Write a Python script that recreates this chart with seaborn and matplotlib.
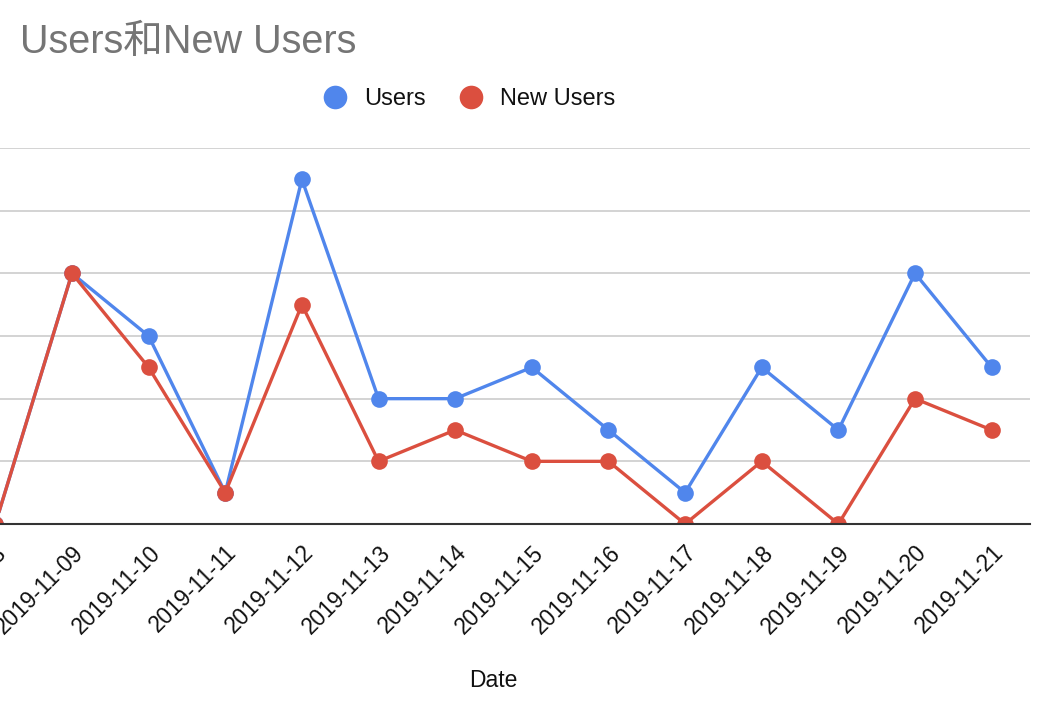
import pandas as pd
import matplotlib.pyplot as plt
import matplotlib.transforms as mtransforms
import seaborn as sns
from matplotlib.lines import Line2D

# values
dates = ["2019-11-08", "2019-11-09", "2019-11-10", "2019-11-11", "2019-11-12",
         "2019-11-13", "2019-11-14", "2019-11-15", "2019-11-16", "2019-11-17",
         "2019-11-18", "2019-11-19", "2019-11-20", "2019-11-21"]
users = [0, 8, 6, 1, 11, 4, 4, 5, 3, 1, 5, 3, 8, 5]
new_users = [0, 8, 5, 1, 7, 2, 3, 2, 2, 0, 2, 0, 4, 3]
series_names = ["Users", "New Users"]
colors = ["#5086ec", "#db4f3f"]


def main():
    sns.set_style("white")
    plt.rcParams['font.family'] = ['Liberation Sans', 'Noto Sans CJK SC', 'DejaVu Sans']

    df = pd.DataFrame({"Date": dates, "Users": users, "New Users": new_users})
    long_df = df.melt(id_vars="Date", value_vars=series_names,
                      var_name="series", value_name="value")

    W, H = 1044, 704
    fig = plt.figure(figsize=(W / 100, H / 100), dpi=100)
    # plot area is cropped on the left in the reference
    left, right, top, bottom = -43, 1030, 148, 524
    ax = fig.add_axes([left / W, 1 - bottom / H, (right - left) / W, (bottom - top) / H])

    sns.lineplot(data=long_df, x="Date", y="value", hue="series", hue_order=series_names,
                 palette=colors, marker="o", markersize=12, markeredgewidth=0,
                 linewidth=2.4, ax=ax, legend=False, sort=False)

    ax.set_xlim(-0.5, len(dates) - 0.5)
    ax.set_ylim(0, 12)
    ax.set_yticks(range(0, 13, 2))
    ax.set_yticklabels([])
    ax.grid(axis="y", color="#cccccc", linewidth=1.2)
    ax.set_axisbelow(True)
    for s in ["left", "right", "top"]:
        ax.spines[s].set_visible(False)
    ax.spines["bottom"].set_color("#333333")
    ax.spines["bottom"].set_linewidth(1.5)
    ax.spines["bottom"].set_zorder(5)

    ax.tick_params(axis="both", length=0)
    ax.tick_params(axis="x", pad=0, labelsize=16.3, labelcolor="#111111")
    shift = mtransforms.ScaledTranslation(0.0, -0.17, fig.dpi_scale_trans)
    for lbl in ax.get_xticklabels():
        lbl.set_rotation(45)
        lbl.set_ha("right")
        lbl.set_va("top")
        lbl.set_rotation_mode("anchor")
        lbl.set_transform(lbl.get_transform() + shift)

    ax.set_ylabel("")
    ax.set_xlabel("Date", fontsize=16.5, color="#111111")
    ax.xaxis.set_label_coords(0.5, -0.385)
    ax.xaxis.label.set_va("top")

    fig.text(20 / W, 1 - 42 / H, "Users和New Users", fontsize=28.5, color="#757575",
             ha="left", va="center")

    handles = [Line2D([], [], linestyle="none", marker="o", markersize=17,
                      markerfacecolor=c, markeredgewidth=0) for c in colors]
    fig.legend(handles, series_names, loc="center", bbox_to_anchor=(468 / W, 1 - 99 / H),
               ncol=2, frameon=False, fontsize=17, handlelength=1.2, handletextpad=0.6,
               columnspacing=1.35, labelcolor="#111111")

    fig.savefig("out.png", dpi=100)


if __name__ == "__main__":
    main()
